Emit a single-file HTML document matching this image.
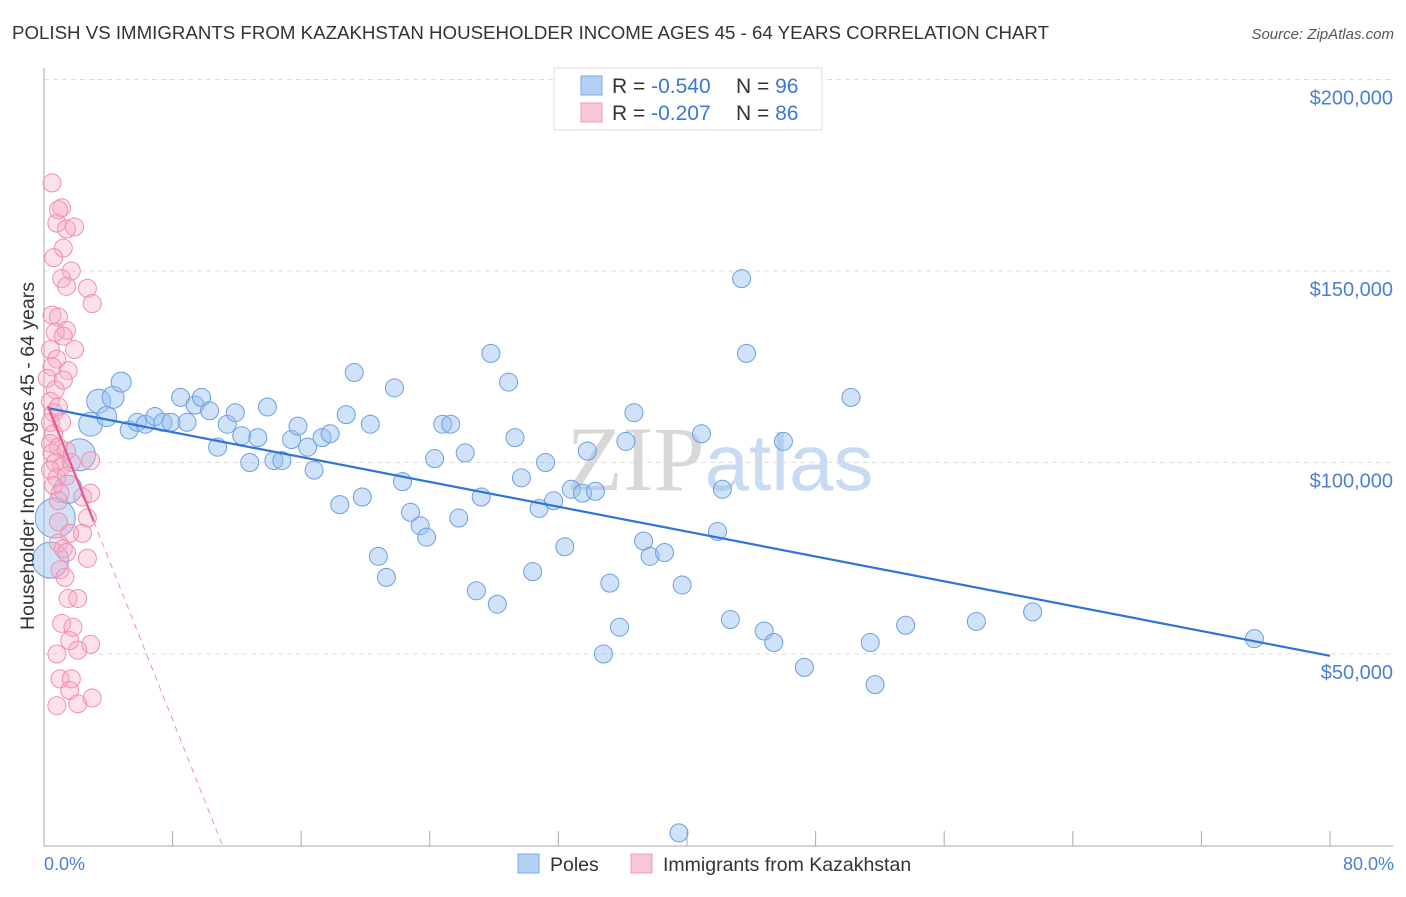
<!DOCTYPE html>
<html><head><meta charset="utf-8"><style>
body{margin:0;background:#fff;font-family:"Liberation Sans",sans-serif;}
svg text{font-family:"Liberation Sans",sans-serif;}
</style></head><body>
<svg id="chart" width="1406" height="892" viewBox="0 0 1406 892" xmlns="http://www.w3.org/2000/svg">
<text x="12" y="39" font-size="18" fill="#333" textLength="1037" lengthAdjust="spacingAndGlyphs">POLISH VS IMMIGRANTS FROM KAZAKHSTAN HOUSEHOLDER INCOME AGES 45 - 64 YEARS CORRELATION CHART</text>
<text x="1394" y="39" font-size="15" fill="#555" text-anchor="end" font-style="italic">Source: ZipAtlas.com</text>
<text x="720" y="490" font-size="92" text-anchor="middle" fill="#dfe3ea"><tspan font-family="Liberation Serif" fill="#d8d8d8">ZIP</tspan><tspan fill="#c9dbf2" font-size="80">atlas</tspan></text>
<g id="grid"></g>
<g id="axes"></g>
<g id="pts"></g>
<g id="lines"></g>
<text transform="translate(34,456) rotate(-90)" font-size="19.5" fill="#333" text-anchor="middle">Householder Income Ages 45 - 64 years</text>
<text x="44" y="870" font-size="18" fill="#4a7fd8">0.0%</text>
<text x="1394" y="870" font-size="18" fill="#4a7fd8" text-anchor="end">80.0%</text>
<g>
<rect x="554" y="68" width="268" height="62" fill="#fff" stroke="#ddd"/>
<rect x="581" y="76" width="21" height="19" fill="#b5d0f5" stroke="#7aa8e8"/>
<rect x="581" y="103" width="21" height="19" fill="#f9c6d6" stroke="#f09ab5"/>
<text x="612" y="93" font-size="21" fill="#333">R = <tspan fill="#3a78d8">-0.540</tspan><tspan x="736">N = </tspan><tspan fill="#3a78d8">96</tspan></text>
<text x="612" y="120" font-size="21" fill="#333">R = <tspan fill="#3a78d8"> -0.207</tspan><tspan x="736">N = </tspan><tspan fill="#3a78d8">86</tspan></text>
</g>
<g>
<rect x="518" y="854" width="21" height="19" fill="#b5d0f5" stroke="#7aa8e8"/>
<text x="550" y="871" font-size="19.5" fill="#333">Poles</text></g>
<g>
<rect x="631" y="854" width="21" height="19" fill="#f9c6d6" stroke="#f09ab5"/>
<text x="663" y="871" font-size="19.5" fill="#333">Immigrants from Kazakhstan</text></g>
</svg>
<script>
const yTicks=[50000,100000,150000,200000];
const yTickLabels=["$50,000","$100,000","$150,000","$200,000"];
const xTicks=[0,8,16,24,32,40,48,56,64,72,80];
const polesX=[0.4,0.7,2.2,1.5,2.9,3.4,4.3,4.8,3.9,5.3,5.8,6.3,6.9,7.4,7.9,8.5,8.9,9.4,9.8,10.3,10.8,11.4,11.9,12.3,12.8,13.3,13.9,14.3,14.8,15.4,15.8,16.4,16.8,17.3,17.8,18.4,18.8,19.3,19.8,20.3,20.8,21.3,21.8,22.3,22.8,23.4,23.8,24.3,24.8,25.3,25.8,26.2,26.9,27.2,27.8,28.2,28.9,29.3,29.7,30.4,30.8,31.2,31.7,32.4,32.8,33.5,34.3,33.8,35.2,35.8,36.2,36.7,34.8,37.3,37.7,38.6,39.7,40.9,42.2,41.9,42.7,43.4,43.7,44.8,45.4,46,47.3,50.2,51.4,51.7,53.6,58.0,61.5,75.3,39.5];
const polesY=[74.5,85.5,102,93,110,116,117,121,112,108.5,110.5,110,112,110.5,110.5,117,110.5,115,117,113.5,104,110,113,107,100,106.5,114.5,100.5,100.5,106,109.5,104,98,106.5,107.5,89,112.5,123.5,91,110,75.5,70,119.5,95,87,83.5,80.5,101,110,110,85.5,102.5,66.5,91,128.5,63,121,106.5,96,71.5,88,100,90,78,93,92,92.5,103,68.5,57,105.5,113,50,79.5,75.5,76.5,68,107.5,93,82,59,148,128.5,56,53,105.5,46.5,117,53,42,57.5,58.5,61,54,3.3];
const polesSize=[18,20,16,14,12,12,11,10,10,9,9,9,9,9,9,9,9,9,9,9,9,9,9,9,9,9,9,9,9,9,9,9,9,9,9,9,9,9,9,9,9,9,9,9,9,9,9,9,9,9,9,9,9,9,9,9,9,9,9,9,9,9,9,9,9,9,9,9,9,9,9,9,9,9,9,9,9,9,9,9,9,9,9,9,9,9,9,9,9,9,9,9,9,9,9];
const kazX=[0.5,1.1,0.9,0.8,1.4,1.9,1.2,0.6,1.7,1.1,1.4,2.7,0.5,0.9,0.7,1.4,1.2,1.9,0.4,0.8,0.5,1.5,0.2,1.2,0.7,0.4,0.9,0.6,0.4,1.1,0.6,0.4,0.9,0.5,1.4,0.7,1.1,0.4,1.7,2.9,0.8,1.4,0.6,1.0,2.4,0.9,2.7,0.9,1.6,0.9,1.2,1.4,1.0,1.3,1.5,2.1,1.1,1.8,1.6,2.9,2.1,0.8,3.0,2.7,1.0,1.7,1.6,0.8,2.1,3.0,2.4,2.9];
const kazY=[173,166.5,166,162.5,161,161.5,156,153.5,150,148,146,145.5,138.5,138,134,134.5,133,129.5,129.5,127,125,124,122,121.5,119,116,114.5,113,110.5,110.5,107.5,105,104,102.5,103,100,99,98,100,100.5,96,96.5,94,92,91,90,85.5,84.5,81.5,79,77.5,76.5,72,70,64.5,64.5,58,57,53.5,52.5,51,50,141.5,75,43.5,43.5,40.5,36.5,37,38.5,81.5,92];
const polesTrend=[114.4,-0.811];
const kazTrend=[117.3,-10.56];
const X0=44,X1=1330,Y0=845.5,PX_PER_K=3.83;
function xs(p){return X0+(X1-X0)*p/80;}
function ys(v){return Y0-v/1000*PX_PER_K;}
function yk(k){return Y0-k*PX_PER_K;}
const NS="http://www.w3.org/2000/svg";
function mk(t,a,parent){const e=document.createElementNS(NS,t);for(const k in a)e.setAttribute(k,a[k]);parent.appendChild(e);return e;}
const grid=document.getElementById('grid'),axes=document.getElementById('axes'),pts=document.getElementById('pts'),lines=document.getElementById('lines');
yTicks.forEach((v,i)=>{
 const l=mk('line',{x1:44,x2:1393,y1:ys(v),y2:ys(v),stroke:'#ddd','stroke-dasharray':'5,4'},grid);
 
 
 const t=mk('text',{x:1393,y:ys(v)+25,'font-size':20,fill:'#4a7fd8','text-anchor':'end'},grid);
 t.textContent=yTickLabels[i];
 
 
});
const ya=mk('line',{x1:44,x2:44,y1:68,y2:846,stroke:'#aaa'},axes);


const xa=mk('line',{x1:44,x2:1393,y1:846,y2:846,stroke:'#aaa'},axes);


xTicks.forEach(p=>{
 const t=mk('line',{x1:xs(p),x2:xs(p),y1:831,y2:846,stroke:'#aaa'},axes);
 
 
});
polesX.forEach((p,i)=>{
 const c=mk('circle',{cx:xs(p),cy:yk(polesY[i]),r:polesSize[i]||9,fill:'rgba(150,190,240,0.45)',stroke:'#6b9fe2','stroke-width':1},pts);
 
 
});
kazX.forEach((p,i)=>{
 const c=mk('circle',{cx:xs(p),cy:yk(kazY[i]),r:9,fill:'rgba(245,170,195,0.35)',stroke:'#f08fb0','stroke-width':1},pts);
 
 
});
const bl=mk('line',{x1:xs(0.25),y1:yk(polesTrend[0]+polesTrend[1]*0.25),x2:xs(80),y2:yk(polesTrend[0]+polesTrend[1]*80),stroke:'#2f74d8','stroke-width':2.2},lines);


const pEnd=3.1,pZero=-kazTrend[0]/kazTrend[1];
const pl=mk('line',{x1:xs(0.25),y1:yk(kazTrend[0]+kazTrend[1]*0.25),x2:xs(pEnd),y2:yk(kazTrend[0]+kazTrend[1]*pEnd),stroke:'#e8588a','stroke-width':2.2},lines);


const pd=mk('line',{x1:xs(pEnd),y1:yk(kazTrend[0]+kazTrend[1]*pEnd),x2:xs(pZero),y2:yk(0),stroke:'#f08fb0','stroke-width':1,'stroke-dasharray':'6,5'},lines);


</script>
</body></html>
